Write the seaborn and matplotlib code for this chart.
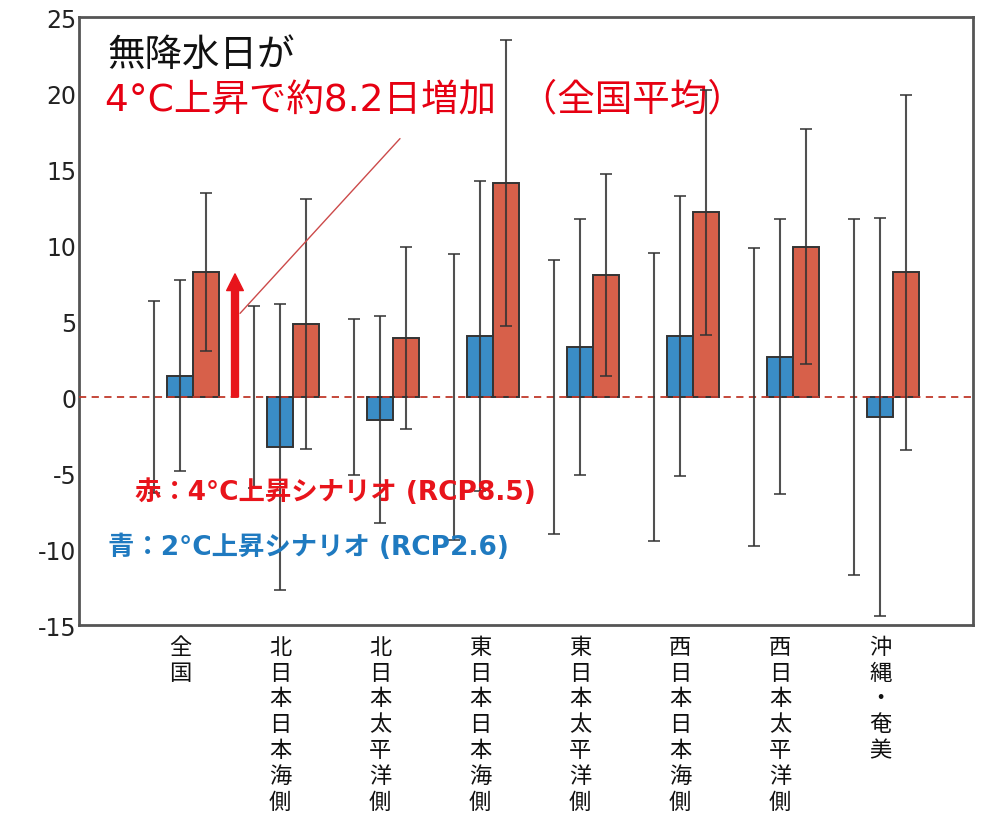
import matplotlib
matplotlib.use("Agg")
import matplotlib.pyplot as plt
import seaborn as sns
import pandas as pd

# ---------------- data ----------------
regions = ["全国", "北日本日本海側", "北日本太平洋側", "東日本日本海側",
           "東日本太平洋側", "西日本日本海側", "西日本太平洋側", "沖縄・奄美"]
present_sd = [6.3, 6.0, 5.1, 9.4, 9.0, 9.5, 9.8, 11.7]
rcp26_mean = [1.4, -3.3, -1.5, 4.0, 3.3, 4.0, 2.65, -1.3]
rcp26_sd = [6.3, 9.4, 6.8, 10.2, 8.4, 9.2, 9.05, 13.1]
rcp85_mean = [8.2, 4.8, 3.9, 14.1, 8.0, 12.15, 9.9, 8.2]
rcp85_sd = [5.2, 8.2, 6.0, 9.4, 6.65, 8.05, 7.7, 11.7]
scenarios = ["現在", "RCP2.6", "RCP8.5"]
yticks = [-15, -10, -5, 0, 5, 10, 15, 20, 25]

rows = []
for i, r in enumerate(regions):
    rows.append((r, scenarios[0], 0.0, present_sd[i]))
    rows.append((r, scenarios[1], rcp26_mean[i], rcp26_sd[i]))
    rows.append((r, scenarios[2], rcp85_mean[i], rcp85_sd[i]))
df = pd.DataFrame(rows, columns=["region", "scenario", "value", "sd"])

# ---------------- style ----------------
sns.set_theme(style="white")
plt.rcParams["font.family"] = ["Noto Sans CJK JP", "DejaVu Sans"]
mixed = ["DejaVu Sans", "Noto Sans CJK JP"]

fig = plt.figure(figsize=(9.84, 8.2), dpi=100)
ax = fig.add_axes([79 / 984, 1 - 626 / 820, (973 - 79) / 984, (626 - 18) / 820])

palette = {"現在": "white", "RCP2.6": "#3a8dc6", "RCP8.5": "#d7604a"}
sns.barplot(data=df, x="region", y="value", hue="scenario", order=regions,
            hue_order=scenarios, palette=palette, width=0.78, saturation=1,
            edgecolor="#333333", linewidth=1.4, errorbar=None, legend=False,
            ax=ax, zorder=2)

bar_containers = list(ax.containers)

# hide the placeholder bars of the present-climate series
for p in bar_containers[0].patches:
    p.set_visible(False)

# error bars, positioned from the drawn bars
for k, cont in enumerate(bar_containers):
    sub = df[df["scenario"] == scenarios[k]].set_index("region").loc[regions]
    xs = [p.get_x() + p.get_width() / 2 for p in cont.patches]
    ax.errorbar(xs, sub["value"].values, yerr=sub["sd"].values, fmt="none",
                ecolor="#333333", elinewidth=1.5, capsize=4, capthick=1.3,
                alpha=0.85, zorder=4)

ax.axhline(0, color="#c0392b", ls=(0, (4, 3)), lw=1.3, zorder=3)

# arrow + leader line
ax.annotate("", xy=(0.55, 8.1), xytext=(0.55, 0.0),
            arrowprops=dict(arrowstyle="simple,head_width=0.6,head_length=0.6,tail_width=0.25",
                            color="#e8141b", shrinkA=0, shrinkB=0, mutation_scale=20),
            zorder=5)
ax.plot([0.6, 2.2], [5.5, 17.0], color="#cc4a4a", lw=1.0, zorder=5)

# texts
ax.text(-0.73, 22.55, "無降水日が", fontsize=27, color="#111111", va="center", ha="left")
ax.text(-0.75, 19.6, "4°C上昇で約8.2日増加  （全国平均）", fontsize=27, family=mixed,
        color="#e60012", va="center", ha="left")
ax.text(-0.45, -6.25, "赤：4°C上昇シナリオ (RCP8.5)", fontsize=19, fontweight="bold",
        family=mixed, color="#e8141b", va="center", ha="left", zorder=6)
ax.text(-0.72, -9.87, "青：2°C上昇シナリオ (RCP2.6)", fontsize=19, fontweight="bold",
        family=mixed, color="#1f7ac0", va="center", ha="left", zorder=6)

# axes
ax.set_xlim(-1.01, 7.93)
ax.set_ylim(-15, 25)
ax.set_yticks(yticks)
ax.set_yticklabels([str(v) for v in yticks], fontsize=17, family="DejaVu Sans",
                   color="#222222")
ax.set_xticks(range(len(regions)))
ax.set_xticklabels(["\n".join(r) for r in regions], fontsize=16, linespacing=1.16,
                   va="top", color="#111111")
ax.set_xlabel("")
ax.set_ylabel("")
ax.tick_params(axis="both", direction="in", length=5, width=1, color="#555555")
ax.tick_params(axis="y", pad=2)
ax.tick_params(axis="x", pad=7)
for s in ax.spines.values():
    s.set_visible(True)
    s.set_color("#555555")
    s.set_linewidth(2)

fig.savefig("out.png", dpi=100)
